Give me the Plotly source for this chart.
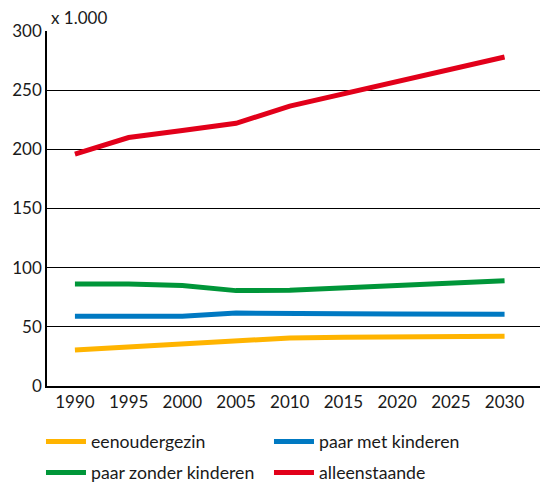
import plotly.graph_objects as go

years = [1990, 1995, 2000, 2005, 2010, 2015, 2020, 2025, 2030]
eenoudergezin = [30.5, 33, 36, 39, 40.6, 41.2, 41.5, 41.7, 42]
paar_met_kinderen = [59, 59.4, 59, 61.7, 61, 61, 60.8, 60.5, 60.6]
paar_zonder_kinderen = [86.2, 86.2, 85, 80.6, 81, 83, 85, 87, 89]
alleenstaande = [196, 210, 216, 222, 236.5, 247, 257, 267, 278]

series = [
    ("eenoudergezin", eenoudergezin, "#FFB400", "legend"),
    ("paar met kinderen", paar_met_kinderen, "#0079C2", "legend"),
    ("paar zonder kinderen", paar_zonder_kinderen, "#009639", "legend2"),
    ("alleenstaande", alleenstaande, "#E2001A", "legend2"),
]

fig = go.Figure()
for name, vals, col, lg in series:
    fig.add_trace(go.Scatter(x=years, y=vals, name=name, mode="lines", legend=lg,
                             line=dict(color=col, width=5)))

font = "Lato, 'Open Sans', sans-serif"
leg = dict(orientation="h", xref="container", yref="container", x=0.0759,
           xanchor="left", yanchor="middle", entrywidth=173, entrywidthmode="pixels",
           itemwidth=40, font=dict(size=17.7, family=font, color="#1a1a1a"),
           bgcolor="rgba(0,0,0,0)")
fig.update_layout(
    template="none",
    width=540, height=487,
    margin=dict(l=47, r=0, t=31, b=101, autoexpand=False),
    plot_bgcolor="white", paper_bgcolor="white",
    font=dict(family=font, size=17, color="#1a1a1a"),
    showlegend=True,
    legend=dict(leg, y=1 - 442 / 487),
    legend2=dict(leg, y=1 - 473 / 487),
    xaxis=dict(range=[1987.4, 2033.3], tickvals=years, showgrid=False,
               showline=True, linecolor="black", linewidth=1.5, zeroline=False,
               ticks="", tickfont=dict(size=17), automargin=False),
    yaxis=dict(range=[0, 300], tickvals=[0, 50, 100, 150, 200, 250, 300],
               showgrid=True, gridcolor="black", gridwidth=1.3,
               showline=True, linecolor="black", linewidth=1.5, zeroline=False,
               ticks="", tickfont=dict(size=17), automargin=False),
    annotations=[dict(text="x 1.000", xref="paper", yref="paper", x=0.005, y=1.0,
                      xanchor="left", yanchor="bottom", showarrow=False,
                      font=dict(size=17, family=font), yshift=1)],
)

fig.write_html("out.html", config={"displayModeBar": False},
               post_script="document.body.style.margin='0';")
